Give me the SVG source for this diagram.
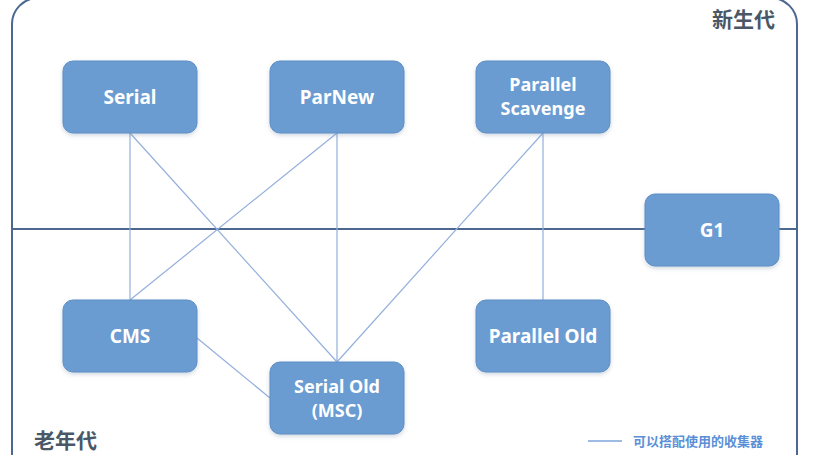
<svg xmlns="http://www.w3.org/2000/svg" width="831" height="455" viewBox="0 0 831 455">
<style>
.node rect{fill:#6a9bd1;stroke:#5e8fc6;stroke-width:1}
.node text{fill:#fff;font-family:"Noto Sans","Open Sans",sans-serif;font-weight:bold;font-size:19px;text-anchor:middle}
.node text.two{font-size:18px}
.conn line{stroke:#93afdc;stroke-width:1.2}
.frame{fill:none;stroke:#4d6890;stroke-width:2}
.zone{fill:#4a5766;font-family:"Noto Sans CJK SC",sans-serif;font-weight:bold;font-size:21px}
</style>
<defs>
<filter id="sh" x="-10%" y="-10%" width="120%" height="130%"><feDropShadow dx="0" dy="2" stdDeviation="2" flood-color="#7a8fa8" flood-opacity="0.35"/></filter>
</defs>
<rect width="831" height="455" fill="#fff"/>
<rect class="frame" x="12" y="-2" width="785" height="500" rx="26"/>
<line class="frame" x1="12" y1="229" x2="797" y2="229"/>
<text class="zone" x="712" y="27">新生代</text>
<text class="zone" x="34" y="448">老年代</text>
<g class="conn">
<line x1="130" y1="133" x2="130" y2="300"/>
<line x1="130" y1="133" x2="337" y2="362"/>
<line x1="337" y1="133" x2="130" y2="300"/>
<line x1="337" y1="133" x2="337" y2="362"/>
<line x1="543" y1="133" x2="337" y2="362"/>
<line x1="543" y1="133" x2="543" y2="300"/>
<line x1="197" y1="338" x2="270" y2="398"/>
</g>
<g id="serial" class="node"><rect x="63" y="61" width="134" height="72" rx="10" filter="url(#sh)"/><text x="130" y="104">Serial</text></g>
<g id="parnew" class="node"><rect x="270" y="61" width="134" height="72" rx="10" filter="url(#sh)"/><text x="337" y="104">ParNew</text></g>
<g id="parallel-scavenge" class="node"><rect x="476" y="61" width="134" height="72" rx="10" filter="url(#sh)"/><text class="two" x="543" y="91">Parallel</text><text class="two" x="543" y="115">Scavenge</text></g>
<g id="g1" class="node"><rect x="645" y="194" width="134" height="72" rx="10" filter="url(#sh)"/><text x="712" y="237">G1</text></g>
<g id="cms" class="node"><rect x="63" y="300" width="134" height="72" rx="10" filter="url(#sh)"/><text x="130" y="343">CMS</text></g>
<g id="parallel-old" class="node"><rect x="476" y="300" width="134" height="72" rx="10" filter="url(#sh)"/><text x="543" y="343">Parallel Old</text></g>
<g id="serial-old" class="node"><rect x="270" y="362" width="134" height="72" rx="10" filter="url(#sh)"/><text class="two" x="337" y="393">Serial Old</text><text class="two" x="337" y="417">(MSC)</text></g>
<g id="legend">
<line x1="588" y1="441" x2="622" y2="441" stroke="#7ea4da" stroke-width="1.5"/>
<text x="633" y="446" fill="#5b8fd6" font-family="Noto Sans CJK SC,sans-serif" font-weight="bold" font-size="13">可以搭配使用的收集器</text>
</g>
</svg>
